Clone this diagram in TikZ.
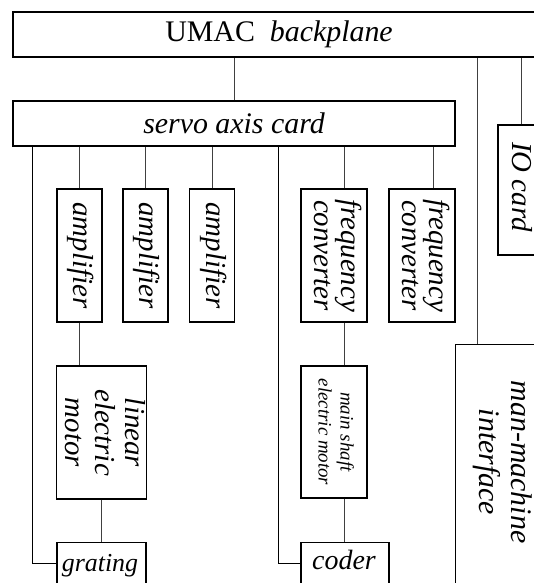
\documentclass[tikz,border=0pt]{standalone}
\usepackage{fontspec}
\setmainfont{Liberation Serif}
\newcommand\vlines[1]{\rotatebox{-90}{\begin{tabular}{@{}c@{}}#1\end{tabular}}}
\tikzset{
  box/.style={draw, line width=1.3bp, inner sep=0pt, fill=white},
  wire/.style={line width=1bp, draw=black!75},
  big/.style={font=\fontsize{30}{30}\selectfont},
  mid/.style={font=\fontsize{29}{29}\selectfont\itshape},
  small/.style={font=\fontsize{19}{22}\selectfont\itshape}
}
\begin{document}
\begin{tikzpicture}[x=1bp,y=-1bp]
\useasboundingbox (0,0) rectangle (534,583);
\clip (0,0) rectangle (534,583);
% nodes
\node[box,big,minimum width=532bp,minimum height=45bp] (umac) at (279,34.5) {UMAC\hspace{0.5em}\textit{backplane}};
\node[box,big,font=\fontsize{30}{30}\selectfont\itshape,minimum width=442bp,minimum height=45bp] (servo) at (234,123.5) {servo axis card};
\node[box,mid,minimum width=45bp,minimum height=133bp] (amp1) at (79.5,255.5) {\vlines{amplifier}};
\node[box,mid,minimum width=45bp,minimum height=133bp] (amp2) at (145.5,255.5) {\vlines{amplifier}};
\node[box,mid,minimum width=45bp,minimum height=133bp] (amp3) at (212,255.5) {\vlines{amplifier}};
\node[box,mid,font=\fontsize{29}{28}\selectfont\itshape,minimum width=66bp,minimum height=133bp] (fc1) at (334,255.5) {\vlines{frequency\\converter}};
\node[box,mid,font=\fontsize{29}{28}\selectfont\itshape,minimum width=66bp,minimum height=133bp] (fc2) at (422,255.5) {\vlines{frequency\\converter}};
\node[box,minimum width=54bp,minimum height=130bp] (io) at (525,190) {};
\node[mid,inner sep=0pt] (iot) at (518.5,187) {\vlines{IO card}};
\node[box,mid,font=\fontsize{29}{30}\selectfont\itshape,minimum width=89bp,minimum height=133bp] (lin) at (101.5,432.5) {\vlines{linear\\electric\\motor}};
\node[box,small,minimum width=66bp,minimum height=132bp] (msm) at (334,432) {\vlines{main shaft\\electric motor}};
\node[box,minimum width=89bp,minimum height=44bp,anchor=north] (grat) at (101.5,542) {};
\node[font=\fontsize{26}{26}\selectfont\itshape,anchor=base] (gratt) at (100,571) {grating};
\node[box,minimum width=88bp,minimum height=44bp,anchor=north] (coder) at (345,542) {};
\node[font=\fontsize{28}{28}\selectfont\itshape,anchor=base] (codert) at (344,569) {coder};
\node[box,minimum width=104bp,minimum height=246bp,anchor=north west] (mmi) at (455,344) {};
\node[font=\fontsize{30}{32}\selectfont\itshape,inner sep=0pt] (mmit) at (501.5,462) {\vlines{man-machine\\interface}};
% wires
\draw[wire] (servo.north) -- (servo.north |- umac.south);
\draw[wire] ([xshift=-4bp]io.north) -- ([xshift=-4bp]io.north |- umac.south);
\draw[wire] ([xshift=22bp]mmi.north west) -- ([xshift=22bp]mmi.north west |- umac.south);
\draw[wire] (amp1.north) -- (amp1.north |- servo.south);
\draw[wire] (amp2.north) -- (amp2.north |- servo.south);
\draw[wire] (amp3.north) -- (amp3.north |- servo.south);
\draw[wire] ([xshift=10bp]fc1.north) -- ([xshift=10bp]fc1.north |- servo.south);
\draw[wire] ([xshift=11bp]fc2.north) -- ([xshift=11bp]fc2.north |- servo.south);
\draw[wire] (amp1.south) -- (amp1.south |- lin.north);
\draw[wire] (lin.south) -- (grat.north);
\draw[wire] ([xshift=10bp]fc1.south) -- ([xshift=10bp]msm.north);
\draw[wire] ([xshift=10bp]msm.south) -- ([xshift=10bp]msm.south |- coder.north);
\draw[wire,line width=1.4bp,draw=black] ([yshift=1bp]grat.west) -| ([xshift=20bp]servo.south west);
\draw[wire,line width=1.4bp,draw=black] ([yshift=1bp]coder.west) -| ([xshift=266bp]servo.south west);
\end{tikzpicture}
\end{document}
